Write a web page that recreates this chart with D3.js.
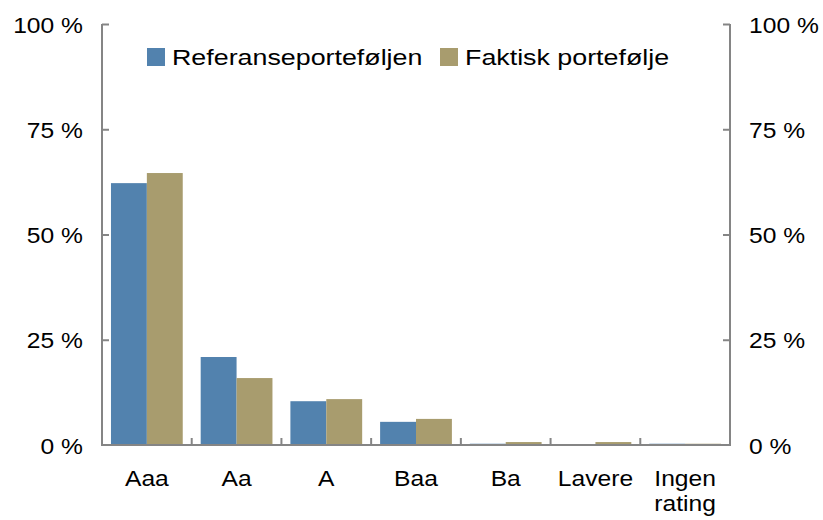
<!DOCTYPE html>
<html><head><meta charset="utf-8">
<script src="https://cdn.jsdelivr.net/npm/d3@7"></script>
<style>body{margin:0;background:#fff}svg{display:block}text{font-family:"Liberation Sans",Arial,sans-serif}</style>
</head><body>
<svg id="c" width="823" height="520"></svg>
<script>
const categories = ["Aaa","Aa","A","Baa","Ba","Lavere","Ingen rating"];
const seriesNames = ["Referanseporteføljen","Faktisk portefølje"];
const referanse = [62.2, 20.9, 10.4, 5.5, 0.3, 0.0, 0.3];
const faktisk = [64.6, 15.9, 10.9, 6.2, 0.7, 0.7, 0.3];
const yTicks = [0,25,50,75,100];
const colors = ["#5282AE","#A89C6E"];

const svg = d3.select("#c");
const L=102, R=730, T=24, B=445;
const FS = 22, SX = 1.12, SXL = 1.22;
const x = d3.scaleBand().domain(categories).range([L,R]).paddingInner(0.2).paddingOuter(0.1);
const xs = d3.scaleBand().domain([0,1]).range([0,x.bandwidth()]);
const y = d3.scaleLinear().domain([0,100]).range([B,T]);
const data = [referanse, faktisk];
const axisCol = "#858585";

data.forEach((vals,si)=>{
  svg.append("g").selectAll("rect").data(categories).join("rect")
    .attr("x",d=>x(d)+xs(si)).attr("width",xs.bandwidth())
    .attr("y",(d,i)=>y(vals[i])).attr("height",(d,i)=>B-y(vals[i]))
    .attr("fill",colors[si]);
});

const la = svg.append("g").attr("transform",`translate(${L},0)`).call(d3.axisRight(y).tickValues(yTicks).tickSize(7).tickFormat(""));
const ra = svg.append("g").attr("transform",`translate(${R},0)`).call(d3.axisLeft(y).tickValues(yTicks).tickSize(7).tickFormat(""));
[la,ra].forEach(a=>{a.select(".domain").attr("stroke",axisCol).attr("stroke-width",2).attr("d",`M0,${T}V${B}`);a.selectAll("line").attr("stroke",axisCol).attr("stroke-width",2);});
la.selectAll(".tick").filter(d=>d===0).remove();
ra.selectAll(".tick").filter(d=>d===0).remove();

svg.append("g").selectAll("text").data(yTicks).join("text")
  .attr("transform",d=>`translate(83,${y(d)+8.5}) scale(${SX},1)`).attr("text-anchor","end").attr("font-size",FS).text(d=>d+" %");
svg.append("g").selectAll("text").data(yTicks).join("text")
  .attr("transform",d=>`translate(749,${y(d)+8.5}) scale(${SX},1)`).attr("text-anchor","start").attr("font-size",FS).text(d=>d+" %");

const xa = svg.append("g").attr("transform",`translate(0,${B})`);
xa.append("line").attr("x1",L-1).attr("x2",R+1).attr("y1",0).attr("y2",0).attr("stroke",axisCol).attr("stroke-width",2);
const step = x.step();
const bounds = categories.slice(1).map(c=>x(c)-x.paddingInner()*step/2);
xa.selectAll(".tk").data(bounds).join("line").attr("class","tk")
  .attr("x1",d=>d).attr("x2",d=>d).attr("y1",0).attr("y2",-7).attr("stroke",axisCol).attr("stroke-width",2);

svg.append("g").selectAll("text").data(categories).join("text")
  .attr("text-anchor","middle").attr("font-size",FS)
  .attr("transform",d=>`translate(${x(d)+x.bandwidth()/2},${B+41}) scale(${SX},1)`)
  .each(function(d){
    const words = d==="Ingen rating" ? ["Ingen","rating"] : [d];
    d3.select(this).selectAll("tspan").data(words).join("tspan").attr("x",0).attr("dy",(w,i)=>i?25:0).text(w=>w);
  });

const lg = [{x:147,t:seriesNames[0],c:colors[0]},{x:440,t:seriesNames[1],c:colors[1]}];
lg.forEach(o=>{
  svg.append("rect").attr("x",o.x).attr("y",48).attr("width",18).attr("height",18).attr("fill",o.c);
  svg.append("text").attr("transform",`translate(${o.x+25},64.5) scale(${SXL},1)`).attr("font-size",FS).text(o.t);
});
</script>
</body></html>
